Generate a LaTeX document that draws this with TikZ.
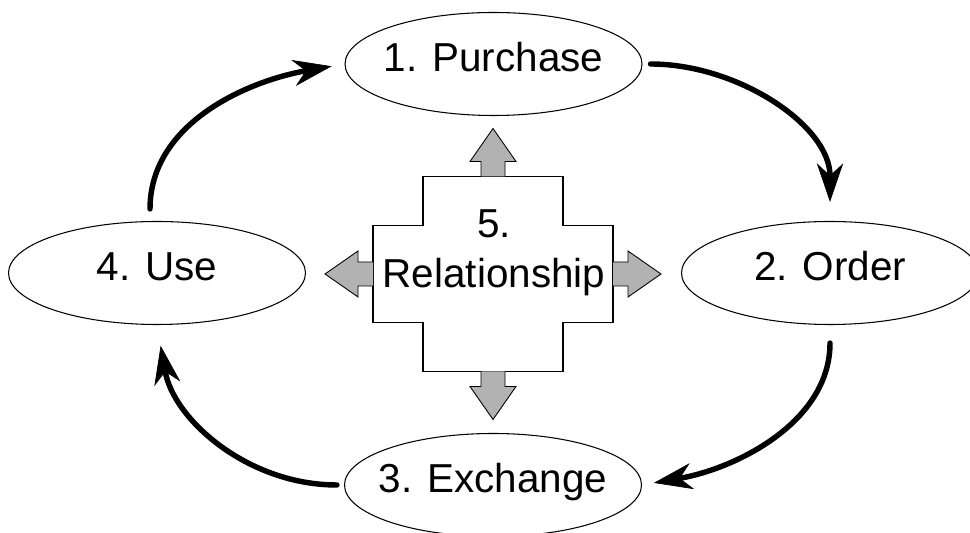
\documentclass[tikz,border=0pt]{standalone}
\usepackage{fontspec}
\setmainfont{Liberation Sans}
\usetikzlibrary{shapes.geometric,arrows.meta,positioning}

\newcommand{\steplabel}[1]{\makebox[3cm]{#1}}

\begin{document}
\begin{tikzpicture} [
    stage/.style = { draw, ellipse, line width = 0.6pt, inner sep = 0, minimum width = 5.94cm, minimum height = 2.06cm, text height = 0.9em, text depth = 0.05em },
    flow/.style = { line width = 3.1pt, line cap = round, -{Stealth[length = 22pt, width = 15pt, inset = 7pt, line width = 0.4pt]} },
    crossbox/.style = { draw, fill = white, line width = 0.6pt },
    push/.pic = { \draw[fill = gray!60, line width = 0.5pt] (0,-0.24) -- ++(0.3,0) -- ++(0,-0.22) -- (0.96,0) -- (0.3,0.46) -- ++(0,-0.22) -- (0,0.24); },
    every node/.style = { font = \fontsize{23}{28.4}\selectfont }
    ]
    \useasboundingbox (0,0) rectangle (19.4,10.66);

    % the relationship hub
    \coordinate (hub) at (9.86,5.18);
    \draw[crossbox] (hub) ++(-1.4,1.95) -- ++(2.8,0) -- ++(0,-0.98) -- ++(1,0) -- ++(0,-1.94) -- ++(-1,0) -- ++(0,-0.98) -- ++(-2.8,0) -- ++(0,0.98) -- ++(-1,0) -- ++(0,1.94) -- ++(1,0) -- cycle;
    \foreach \ang/\dx/\dy in {90/0/1.95, 0/2.4/0, -90/0/-1.95, 180/-2.4/0}
        \path (hub) ++(\dx,\dy) pic[rotate=\ang] {push};
    \node[align=center] (rel) at (9.88,5.6) {5.\\Relationship};

    % the cycle
    \node[stage] (purchase) at (9.87,9.38) {\steplabel{1. Purchase}};
    \node[stage] (order) at (16.6,5.2) {\steplabel{2. Order}};
    \node[stage] (exchange) at (9.86,0.96) {\steplabel{3. Exchange}};
    \node[stage] (use) at (3.14,5.2) {\steplabel{4. Use}};

    \draw[flow, shorten <= 0.24cm, shorten >= 0.26cm] ([xshift=-1.4mm]use.north) to[out=90, in=190] (purchase.west);
    \draw[flow, shorten <= 0.16cm, shorten >= 0.38cm] (purchase.east) to[out=0, in=90] (order.north);
    \draw[flow, shorten <= 0.36cm, shorten >= 0.24cm] (order.south) to[out=-90, in=10] (exchange.east);
    \draw[flow, shorten <= 0.14cm, shorten >= 0.42cm] (exchange.west) to[out=180, in=-80] (use.south);
\end{tikzpicture}
\end{document}
